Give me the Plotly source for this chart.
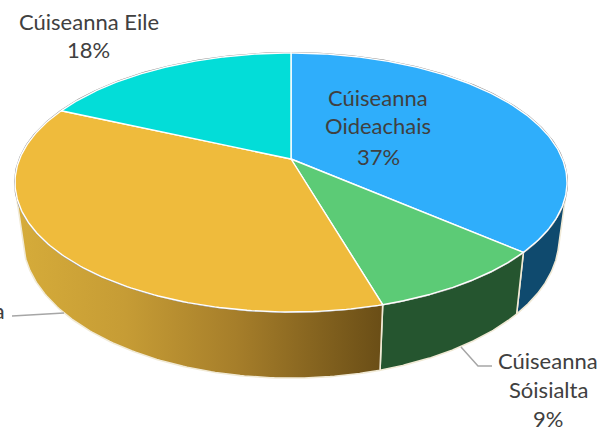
import numpy as np
import plotly.graph_objects as go

categories = ["Cúiseanna Oideachais", "Cúiseanna Sóisialta", "Cúiseanna Fostaíochta", "Cúiseanna Eile"]
values = [36.4, 9.1, 36.3, 18.2]
top_colors = ["#2FAEFB", "#5CCB76", "#EFBB3C", "#03DDD8"]

W, H = 602, 430
C = 0.1815          # perspective
TOP = dict(cx=291, cy=159, D=271.4, A=125.2)
BOT = dict(cx=291, cy=213.8, D=263.5, A=134.5)
WALL_FROM, WALL_TO = np.radians(105), np.radians(255)   # visible part of the rim


def proj(theta, disc, r=1.0):
    den = 1 + C * r * np.cos(theta)
    return (disc["cx"] + disc["D"] * r * np.sin(theta) / den,
            disc["cy"] - disc["A"] * r * np.cos(theta) / den)


fracs = np.array(values) / sum(values)
ends = np.cumsum(fracs) * 2 * np.pi
starts = np.concatenate([[0], ends[:-1]])

fig = go.Figure()

# side walls
wall_styles = [
    dict(fillcolor="#0F4A6E"),
    dict(fillcolor="#25552F"),
    dict(fillgradient=dict(type="horizontal", start=15, stop=384,
                           colorscale=[[0, "#D6AC3A"], [0.3, "#C69C35"], [0.6, "#A67E2A"], [1, "#694D16"]])),
]
for i, st in enumerate(wall_styles):
    t = np.linspace(max(starts[i], WALL_FROM), min(ends[i], WALL_TO), 120)
    x1, y1 = proj(t, TOP)
    x2, y2 = proj(t[::-1], BOT)
    fig.add_trace(go.Scatter(x=np.r_[x1, x2, x1[0]], y=np.r_[y1, y2, y1[0]], mode="lines",
                             fill="toself", line=dict(color="#F1EAD6", width=1.6),
                             hoverinfo="skip", **st))

# rim of the top disc
t = np.linspace(0, 2 * np.pi, 400)
xr, yr = proj(t, TOP)
fig.add_trace(go.Scatter(x=xr, y=yr, mode="lines", line=dict(color="#8E8E8E", width=2), hoverinfo="skip"))

# top faces
for i, col in enumerate(top_colors):
    t = np.linspace(starts[i], ends[i], 160)
    x, y = proj(t, TOP)
    fig.add_trace(go.Scatter(x=np.r_[TOP["cx"], x, TOP["cx"]], y=np.r_[TOP["cy"], y, TOP["cy"]],
                             mode="lines", fill="toself", fillcolor=col,
                             line=dict(color="#FFFFFF", width=1.4), name=categories[i],
                             hoverinfo="skip"))

# leader lines
leaders_x = [[12, 64], [461, 478, 492]]
leaders_y = [[316, 313], [347, 366, 366]]
for lx, ly in zip(leaders_x, leaders_y):
    fig.add_trace(go.Scatter(x=lx, y=ly, mode="lines", line=dict(color="#A6A6A6", width=1.5), hoverinfo="skip"))

label_lines = [
    ("Cúiseanna Eile", 89, 22), ("18%", 88, 49),
    ("Cúiseanna", 378, 97), ("Oideachais", 378, 125), ("37%", 378, 156),
    ("Cúiseanna", 548, 360), ("Sóisialta", 548, 389), ("9%", 548, 418),
    ("Cúiseanna", -45, 310), ("Fostaíochta", -55, 339), ("36%", -45, 368),
]
for txt, lx, ly in label_lines:
    fig.add_annotation(text=txt, xref="paper", yref="paper", x=lx / W, y=1 - ly / H,
                       xanchor="center", yanchor="middle", showarrow=False,
                       font=dict(family="Lato", size=22, color="#404040"))

fig.update_layout(
    width=W, height=H, margin=dict(l=0, r=0, t=0, b=0), showlegend=False,
    paper_bgcolor="white", plot_bgcolor="white",
    xaxis=dict(range=[0, W], visible=False, fixedrange=True),
    yaxis=dict(range=[H, 0], visible=False, fixedrange=True),
)
fig.write_html("out.html", config={"displayModeBar": False},
               post_script="document.body.style.margin='0';document.documentElement.style.overflow='hidden';")
